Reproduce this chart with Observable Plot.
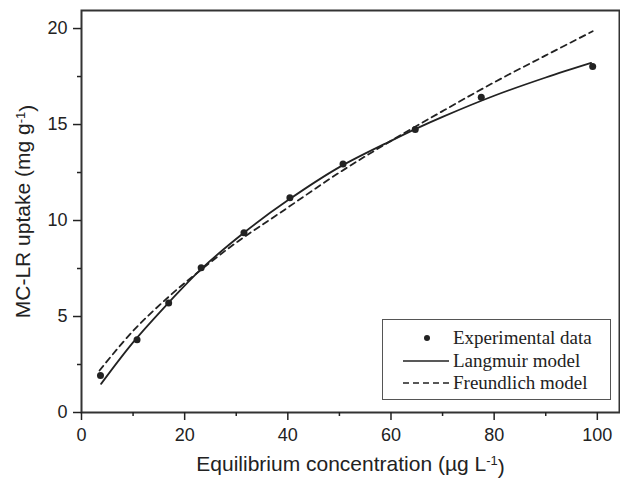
<!DOCTYPE html>
<html>
<head>
<meta charset="utf-8">
<script src="https://cdn.jsdelivr.net/npm/d3@7"></script>
<script src="https://cdn.jsdelivr.net/npm/@observablehq/plot@0.6"></script>
<style>
  html, body { margin: 0; padding: 0; background: #fff; }
  #wrap { position: relative; width: 620px; height: 478px; }
  #legend {
    position: absolute; left: 382px; top: 319px; width: 229px; height: 81px;
    border: 1.5px solid #555; background: #fff; box-sizing: border-box;
    font-family: "Liberation Serif", "Times New Roman", serif; font-size: 19px; color: #222;
  }
  #legend .row { position: absolute; left: 0; height: 22px; display: flex; align-items: center; white-space: nowrap; }
  #legend svg { display: block; }
</style>
</head>
<body>
<div id="wrap"></div>
<script>
// Experimental data
const expC = [3.68, 10.77, 16.9, 23.2, 31.5, 40.4, 50.7, 64.7, 77.5, 99.1];
const expQ = [1.93, 3.79, 5.71, 7.54, 9.36, 11.18, 12.95, 14.74, 16.42, 18.02];

// Langmuir model curve
const langC = [3.8, 10, 17, 23, 31.6, 40, 50, 60, 65, 70, 80, 90, 98.8];
const langQ = [1.49, 3.65, 5.75, 7.42, 9.39, 11.05, 12.78, 14.15, 14.8, 15.4, 16.5, 17.45, 18.21];

// Freundlich model curve
const freuC = [3.5, 10, 17, 23, 30, 38.5, 50, 60, 70, 80, 90, 99.1];
const freuQ = [2.19, 4.25, 6.05, 7.4, 8.85, 10.4, 12.5, 14.15, 15.7, 17.2, 18.6, 19.86];

// Ticks
const xTicks = [0, 20, 40, 60, 80, 100];
const xMinor = [10, 30, 50, 70, 90];
const yTicks = [0, 5, 10, 15, 20];
const yMinor = [2.5, 7.5, 12.5, 17.5];

const legendItems = ["Experimental data", "Langmuir model", "Freundlich model"];

const exp = expC.map((c, i) => ({c, q: expQ[i]}));
const lang = langC.map((c, i) => ({c, q: langQ[i]}));
const freu = freuC.map((c, i) => ({c, q: freuQ[i]}));

const ink = "#222";
const chart = Plot.plot({
  width: 620,
  height: 478,
  marginLeft: 81,
  marginRight: 1,
  marginTop: 10,
  marginBottom: 66,
  style: {fontFamily: "'Liberation Sans', Arial, sans-serif", fontSize: "18px", color: ink, background: "#fff"},
  x: {domain: [0, 104.3]},
  y: {domain: [0, 20.94]},
  marks: [
    Plot.frame({stroke: "#333", strokeWidth: 2}),
    Plot.axisX({ticks: xTicks, tickSize: 8, tickPadding: 8, tickFormat: d3.format("d"), strokeWidth: 1.5,
      label: "Equilibrium concentration (µg L-1)", labelAnchor: "center", labelArrow: "none", labelOffset: 58, fontSize: 18}),
    Plot.axisX({ticks: xMinor, tickSize: 4, tickFormat: () => "", label: null, strokeWidth: 1.5}),
    Plot.axisY({ticks: yTicks, tickSize: 8, tickPadding: 6, tickFormat: d3.format("d"), strokeWidth: 1.5,
      label: "MC-LR uptake (mg g-1)", labelAnchor: "center", labelArrow: "none", labelOffset: 66, fontSize: 18}),
    Plot.axisY({ticks: yMinor, tickSize: 4, tickFormat: () => "", label: null, strokeWidth: 1.5}),
    Plot.line(freu, {x: "c", y: "q", stroke: ink, strokeWidth: 1.8, strokeDasharray: "6,4.5", curve: "catmull-rom"}),
    Plot.line(lang, {x: "c", y: "q", stroke: ink, strokeWidth: 1.8, curve: "catmull-rom"}),
    Plot.dot(exp, {x: "c", y: "q", r: 3.5, fill: ink, stroke: "none"})
  ]
});

// Superscript the "-1" in axis labels and enlarge label font
d3.select(chart).selectAll("text").each(function() {
  const t = this.textContent;
  const m = t.match(/^(.*)(-1)(\))$/);
  if (m) {
    const sel = d3.select(this);
    sel.text(null).attr("font-size", 21);
    sel.append("tspan").text(m[1]);
    sel.append("tspan").attr("dy", "-0.45em").attr("font-size", 13).text("-1");
    sel.append("tspan").attr("dy", "0.45em").text(m[3]);
  }
});

const wrap = document.getElementById("wrap");
wrap.appendChild(chart);

// Legend overlay
const legend = document.createElement("div");
legend.id = "legend";
const rowsTop = [7, 30, 52];
legendItems.forEach((label, i) => {
  const row = document.createElement("div");
  row.className = "row";
  row.style.top = rowsTop[i] + "px";
  const sw = d3.create("svg").attr("width", 70).attr("height", 22);
  if (i === 0) sw.append("circle").attr("cx", 44).attr("cy", 11).attr("r", 3).attr("fill", ink);
  else sw.append("line").attr("x1", 20).attr("x2", 66).attr("y1", 11).attr("y2", 11)
      .attr("stroke", ink).attr("stroke-width", 1.6)
      .attr("stroke-dasharray", i === 2 ? "6,4" : null);
  row.appendChild(sw.node());
  const span = document.createElement("span");
  span.textContent = label;
  row.appendChild(span);
  legend.appendChild(row);
});
wrap.appendChild(legend);
</script>
</body>
</html>
